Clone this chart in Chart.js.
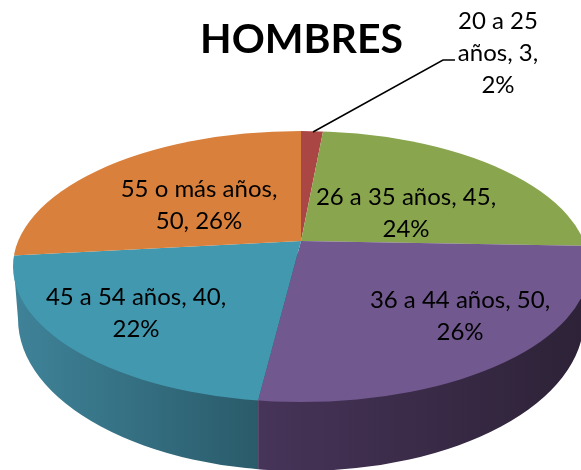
<!DOCTYPE html>
<html>
<head>
<meta charset="utf-8">
<style>html,body{margin:0;padding:0;background:#fff}canvas{display:block}</style>
<script src="https://cdn.jsdelivr.net/npm/chart.js@4/dist/chart.umd.min.js"></script>
</head>
<body>
<canvas id="c" width="581" height="470"></canvas>
<script>
const categories = ["20 a 25 años", "26 a 35 años", "36 a 44 años", "45 a 54 años", "55 o más años"];
const values = [3, 45, 50, 40, 50];
const percents = [2, 24, 26, 22, 26];
const faceColors = ["#AA4643", "#89A54E", "#71588F", "#4198AF", "#D9803C"];
const wallLeft = ["#8a3836", "#6f863f", "#473459", "#3f8399", "#b06a32"];
const wallRight = ["#8a3836", "#6f863f", "#2d2237", "#2a5b6a", "#b06a32"];
const titleText = "HOMBRES";

// Layout of the tilted pie
const apex = {x: 301, y: 241, sx: 340, sy: 170};
const face = {x: 301, y: 266.5, rx: 288, ry: 135.5};
const base = {x: 301, y: 319, rx: 283, ry: 152, lx: 13, ly: 257, rxEdge: 589, ryEdge: 250};
const labelFont = '24px Lato, sans-serif';
const lineGap = 32;
const labelBoxes = [
  {x: 498, y: 21, wrap: 100},
  {x: 406, y: 197, wrap: 195},
  {x: 460, y: 300, wrap: 195},
  {x: 136, y: 297, wrap: 195},
  {x: 199, y: 189, wrap: 190}
];
const leader = [[313, 132], [443, 60], [455, 60]];

function rimX(angle) {
  const dx = apex.sx * Math.cos(angle), dy = apex.sy * Math.sin(angle);
  const px = apex.x - face.x, py = apex.y - face.y;
  const a = dx*dx/(face.rx*face.rx) + dy*dy/(face.ry*face.ry);
  const b = 2*(px*dx/(face.rx*face.rx) + py*dy/(face.ry*face.ry));
  const c = px*px/(face.rx*face.rx) + py*py/(face.ry*face.ry) - 1;
  const t = (-b + Math.sqrt(b*b - 4*a*c)) / (2*a);
  return apex.x + t*dx;
}

const tilted3d = {
  id: 'tilted3d',
  beforeDatasetsDraw(chart) {
    const ctx = chart.ctx;
    const arcs = chart.getDatasetMeta(0).data;

    // side wall of the slices facing the viewer
    arcs.forEach((arc, i) => {
      const mid = (arc.startAngle + arc.endAngle) / 2;
      if (Math.sin(mid) <= 0) return;
      const x0 = Math.min(rimX(arc.startAngle), rimX(arc.endAngle));
      const x1 = Math.max(rimX(arc.startAngle), rimX(arc.endAngle));
      ctx.save();
      ctx.beginPath();
      ctx.rect(x0, 0, x1 - x0, chart.height);
      ctx.clip();
      ctx.beginPath();
      ctx.moveTo(base.lx, base.ly);
      ctx.ellipse(base.x, base.y, base.rx, base.ry, 0, Math.PI, 0, true);
      ctx.lineTo(base.rxEdge, base.ryEdge);
      ctx.closePath();
      const g = ctx.createLinearGradient(x0, 0, Math.min(x1, chart.width), 0);
      g.addColorStop(0, wallLeft[i]);
      g.addColorStop(1, wallRight[i]);
      ctx.fillStyle = g;
      ctx.fill();
      ctx.restore();
    });

    // top face
    ctx.save();
    ctx.beginPath();
    ctx.ellipse(face.x, face.y, face.rx, face.ry, 0, 0, Math.PI*2);
    ctx.clip();
    arcs.forEach(arc => {
      const r = arc.outerRadius;
      ctx.save();
      ctx.translate(apex.x, apex.y);
      ctx.scale(apex.sx / r, apex.sy / r);
      ctx.translate(-arc.x, -arc.y);
      arc.draw(ctx);
      ctx.restore();
    });
    ctx.restore();
    return false;
  },
  afterDraw(chart) {
    const ctx = chart.ctx;
    ctx.save();
    ctx.strokeStyle = '#000';
    ctx.lineWidth = 1.5;
    ctx.beginPath();
    leader.forEach((p, i) => i ? ctx.lineTo(p[0], p[1]) : ctx.moveTo(p[0], p[1]));
    ctx.stroke();

    ctx.font = labelFont;
    ctx.fillStyle = '#000';
    ctx.textAlign = 'center';
    ctx.textBaseline = 'middle';
    categories.forEach((cat, i) => {
      const words = `${cat}, ${values[i]}, ${percents[i]}%`.split(' ');
      const lines = [];
      let cur = '';
      words.forEach(w => {
        const t = cur ? cur + ' ' + w : w;
        if (ctx.measureText(t).width > labelBoxes[i].wrap && cur) { lines.push(cur); cur = w; }
        else cur = t;
      });
      lines.push(cur);
      lines.forEach((l, k) => ctx.fillText(l, labelBoxes[i].x, labelBoxes[i].y + k * lineGap));
    });
    ctx.restore();
  }
};

new Chart(document.getElementById('c'), {
  type: 'pie',
  data: {
    labels: categories,
    datasets: [{data: values, backgroundColor: faceColors, borderWidth: 0}]
  },
  options: {
    responsive: false,
    animation: false,
    layout: {padding: {left: 22}},
    plugins: {
      legend: {display: false},
      tooltip: {enabled: false},
      title: {
        display: true,
        text: titleText,
        color: '#000',
        font: {family: 'Lato, sans-serif', size: 41, weight: 'bold'},
        padding: {top: 15, bottom: 10}
      }
    }
  },
  plugins: [tilted3d]
});
</script>
</body>
</html>
